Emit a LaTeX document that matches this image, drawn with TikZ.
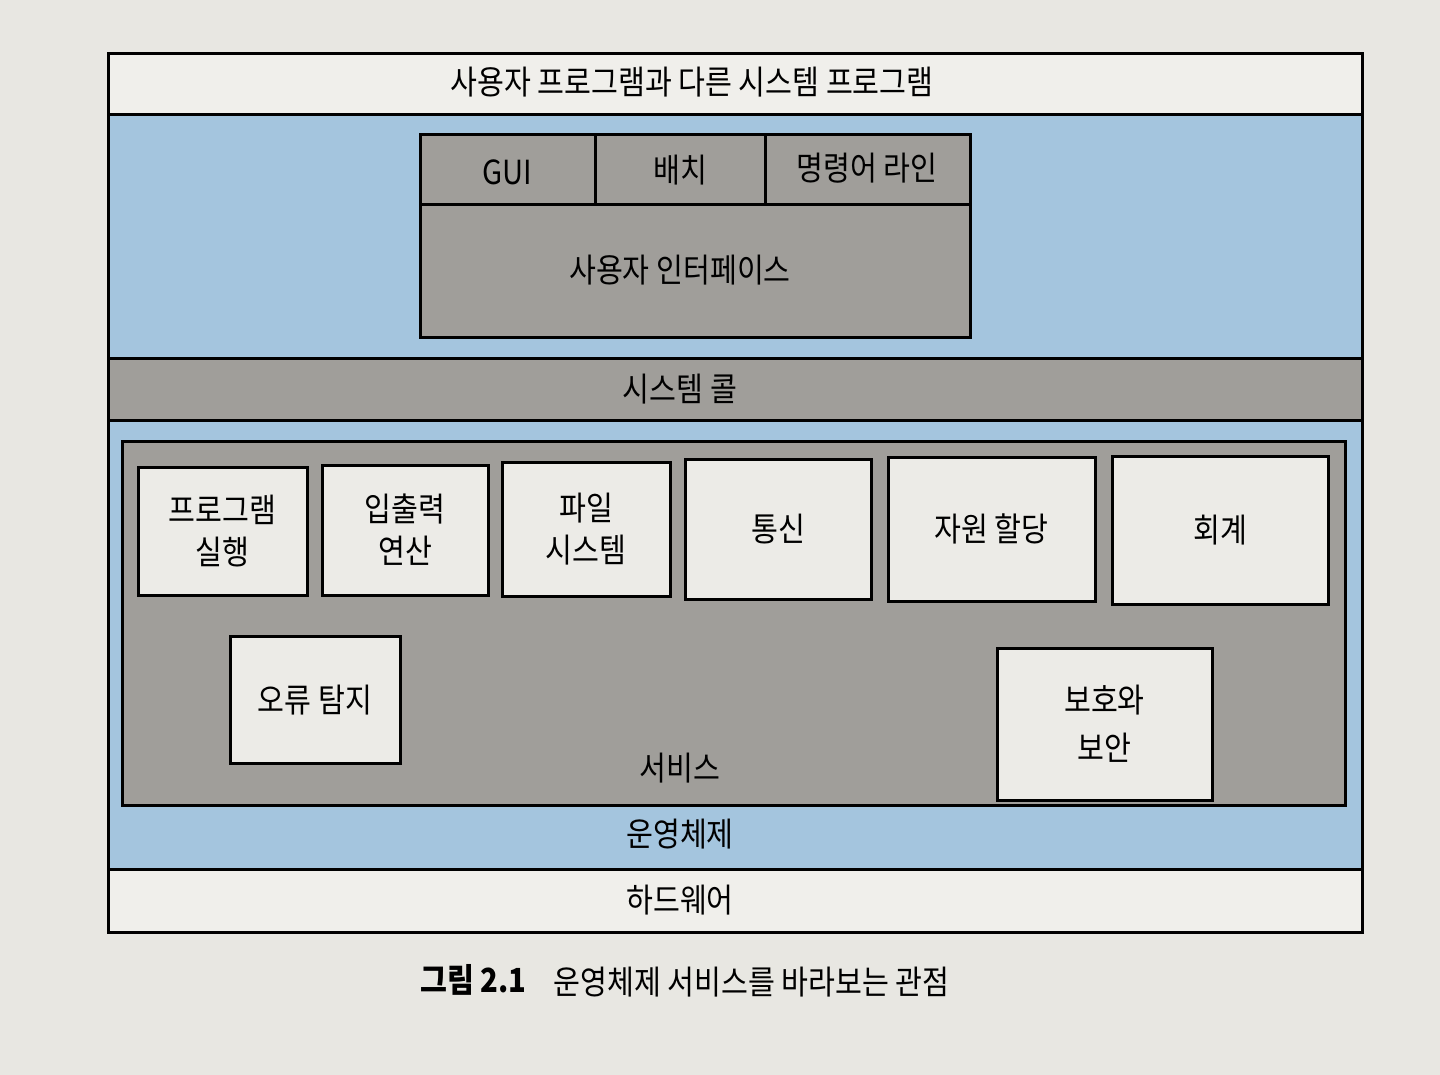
\documentclass[tikz,border=0pt]{standalone}
\usepackage{fontspec}
\setmainfont{Noto Sans CJK KR}[FakeStretch=0.88]
\definecolor{paper}{RGB}{232,231,226}
\definecolor{bandwhite}{RGB}{240,239,235}
\definecolor{osblue}{RGB}{164,197,222}
\definecolor{gray1}{RGB}{160,158,154}
\definecolor{boxwhite}{RGB}{236,235,231}
\tikzset{
  frameline/.style={line width=1.5pt, draw=black},
  lbl/.style={font=\fontsize{16.6}{18}\selectfont, text=black, inner sep=0pt},
  svcbox/.style={frameline, fill=boxwhite, font=\fontsize{16.6}{21}\selectfont, align=center, inner sep=0pt},
}
\begin{document}
\begin{tikzpicture}[x=0.5pt,y=-0.5pt]
\useasboundingbox (0,0) rectangle (1440,1075);
\fill[paper] (0,0) rectangle (1440,1075);
% outer area (operating system)
\fill[osblue] (108,54) rectangle (1362,932);
% top band
\fill[bandwhite] (108,54) rectangle (1362,115);
% system call band
\fill[gray1] (108,358) rectangle (1362,420);
% hardware band
\fill[bandwhite] (108,869) rectangle (1362,932);
% lines
\draw[frameline] (108,54) rectangle (1362,932);
\draw[frameline] (108,115) -- (1362,115);
\draw[frameline] (108,358) -- (1362,358);
\draw[frameline] (108,420) -- (1362,420);
\draw[frameline] (108,869) -- (1362,869);
\node[lbl] (apps) at (692,82) {사용자 프로그램과 다른 시스템 프로그램};
\node[lbl] (syscall) at (680,389) {시스템 콜};
\node[lbl] (os) at (680,834) {운영체제};
\node[lbl] (hw) at (680,900) {하드웨어};
% user interface box
\draw[frameline, fill=gray1] (420,135) rectangle (970,337);
\draw[frameline] (420,205) -- (970,205);
\draw[frameline] (595,135) -- (595,205);
\draw[frameline] (765,135) -- (765,205);
\node[lbl] (gui) at (507,172) {GUI};
\node[lbl] (batch) at (680,170) {배치};
\node[lbl] (cli) at (867,168) {명령어 라인};
\node[lbl] (ui) at (680,270) {사용자 인터페이스};
% services box
\draw[frameline, fill=gray1] (122,441) rectangle (1345,805);
\node[lbl] (svc) at (680,768) {서비스};
\node[svcbox, minimum width=84.5pt, minimum height=64pt] (exec) at (222.5,531) {프로그램\\실행};
\node[svcbox, minimum width=83pt, minimum height=65pt] (io) at (405,530) {입출력\\연산};
\node[svcbox, minimum width=84pt, minimum height=67pt] (fs) at (586,529) {파일\\시스템};
\node[svcbox, minimum width=93pt, minimum height=70pt] (comm) at (778,529) {통신};
\node[svcbox, minimum width=103.5pt, minimum height=72pt] (res) at (991.5,529) {자원 할당};
\node[svcbox, minimum width=108pt, minimum height=74pt] (acct) at (1220,530) {회계};
\node[svcbox, minimum width=85pt, minimum height=63.5pt] (err) at (315,700) {오류 탐지};
\node[svcbox, font=\fontsize{16.6}{24}\selectfont, minimum width=107.5pt, minimum height=76pt] (prot) at (1104.5,724) {보호와\\보안};
% caption
\node[lbl, anchor=west] (capnum) at (420,980) {\bfseries 그림 2.1};
\node[lbl, anchor=west] (captxt) at (553,982) {운영체제 서비스를 바라보는 관점};
\end{tikzpicture}
\end{document}
